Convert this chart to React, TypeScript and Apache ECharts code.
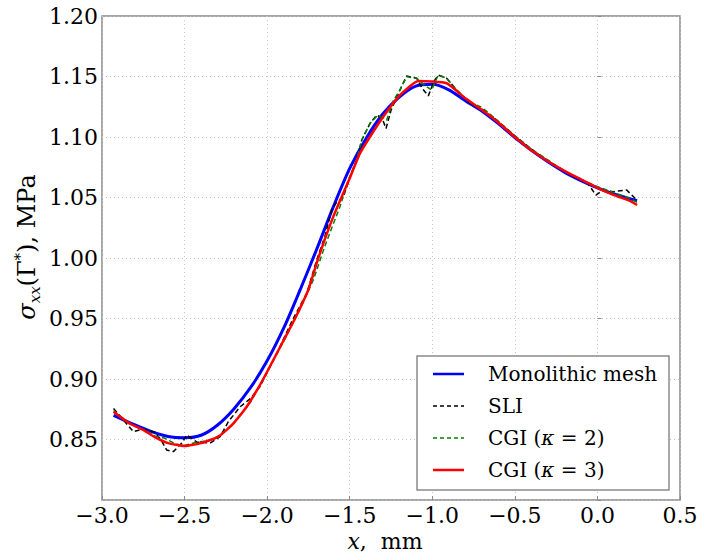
import React, { useEffect, useRef } from "react";
import * as echarts from "echarts";

const monoX = [-2.93, -2.8, -2.7, -2.6, -2.5, -2.4, -2.3, -2.2, -2.1, -2.0, -1.9, -1.8, -1.7, -1.6, -1.5, -1.4, -1.3, -1.2, -1.1, -1.0, -0.9, -0.8, -0.7, -0.6, -0.5, -0.4, -0.3, -0.2, -0.1, 0.0, 0.1, 0.24];
const monoY = [0.870, 0.862, 0.8565, 0.8525, 0.8515, 0.8535, 0.862, 0.8755, 0.893, 0.915, 0.942, 0.9738, 1.0072, 1.042, 1.074, 1.099, 1.119, 1.133, 1.142, 1.1435, 1.139, 1.130, 1.1215, 1.111, 1.0995, 1.089, 1.0795, 1.071, 1.064, 1.058, 1.053, 1.0474];

const sliX = [-2.93, -2.87, -2.81, -2.77, -2.73, -2.679, -2.64, -2.608, -2.568, -2.517, -2.487, -2.427, -2.346, -2.285, -2.235, -2.164, -2.1, -2.043, -1.942, -1.842, -1.76, -1.7, -1.65, -1.609, -1.58, -1.54, -1.5, -1.458, -1.427, -1.377, -1.337, -1.305, -1.28, -1.25, -1.196, -1.155, -1.094, -1.06, -1.024, -0.99, -0.964, -0.913, -0.852, -0.771, -0.691, -0.61, -0.5, -0.4, -0.3, -0.2, -0.146, -0.065, -0.009, 0.036, 0.096, 0.177, 0.238];
const sliY = [0.8757, 0.866, 0.8565, 0.858, 0.858, 0.856, 0.849, 0.8413, 0.84, 0.847, 0.8537, 0.848, 0.847, 0.8523, 0.8647, 0.877, 0.884, 0.8937, 0.921, 0.95, 0.9708, 0.9983, 1.018, 1.0397, 1.046, 1.05, 1.066, 1.081, 1.0975, 1.1113, 1.118, 1.116, 1.107, 1.122, 1.1388, 1.1505, 1.1485, 1.14, 1.134, 1.146, 1.1512, 1.1485, 1.1388, 1.1278, 1.1223, 1.114, 1.101, 1.09, 1.08, 1.072, 1.0672, 1.063, 1.052, 1.0562, 1.0548, 1.0562, 1.048];

const cgi2X = [-2.93, -2.87, -2.8, -2.73, -2.68, -2.62, -2.55, -2.5, -2.42, -2.35, -2.28, -2.2, -2.1, -2.0, -1.9, -1.8, -1.72, -1.65, -1.6, -1.559, -1.508, -1.458, -1.427, -1.377, -1.33, -1.276, -1.236, -1.196, -1.155, -1.094, -1.04, -1.004, -0.964, -0.913, -0.852, -0.771, -0.7, -0.6, -0.5, -0.4, -0.3, -0.2, -0.1, 0.0, 0.1, 0.2, 0.24];
const cgi2Y = [0.874, 0.867, 0.861, 0.857, 0.853, 0.851, 0.846, 0.845, 0.848, 0.849, 0.854, 0.864, 0.881, 0.906, 0.931, 0.958, 0.982, 1.01, 1.028, 1.0424, 1.0645, 1.081, 1.0975, 1.1113, 1.118, 1.114, 1.13, 1.1388, 1.1498, 1.1485, 1.142, 1.1388, 1.1512, 1.1485, 1.1388, 1.1285, 1.1245, 1.113, 1.101, 1.09, 1.081, 1.072, 1.065, 1.059, 1.054, 1.049, 1.046];

const cgi3X = [-2.93, -2.83, -2.75, -2.68, -2.6, -2.5, -2.4, -2.3, -2.245, -2.2, -2.124, -2.05, -2.0, -1.9, -1.831, -1.75, -1.69, -1.6, -1.5, -1.438, -1.35, -1.297, -1.2, -1.085, -0.913, -0.8, -0.7, -0.6, -0.5, -0.4, -0.3, -0.2, -0.1, 0.0, 0.1, 0.2, 0.24];
const cgi3Y = [0.873, 0.863, 0.858, 0.852, 0.847, 0.8446, 0.847, 0.852, 0.858, 0.864, 0.877, 0.8935, 0.906, 0.932, 0.95, 0.974, 1.0, 1.034, 1.066, 1.0865, 1.106, 1.1168, 1.134, 1.1463, 1.1444, 1.132, 1.1225, 1.112, 1.1, 1.089, 1.08, 1.072, 1.065, 1.058, 1.052, 1.047, 1.0438];

const seriesNames = ["Monolithic mesh", "SLI", "CGI (κ = 2)", "CGI (κ = 3)"];
const seriesColors = ["#0000ff", "#000000", "#008000", "#ff0000"];
const seriesWidths = [3, 1.5, 1.5, 2.5];
const seriesDashed = [false, true, true, false];

const FONT = "'DejaVu Serif', 'Liberation Serif', serif";

function pairs(xs: number[], ys: number[]) {
  return xs.map((x, i) => [x, ys[i]]);
}

function legendText(name: string) {
  if (name.indexOf("κ") >= 0) {
    const parts = name.split("κ");
    return "{n|" + parts[0] + "}{i|κ}{n|" + parts[1] + "}";
  }
  return "{n|" + name + "}";
}

export default function App() {
  const ref = useRef<HTMLDivElement>(null);
  useEffect(() => {
    if (!ref.current) return;
    const chart = echarts.init(ref.current, undefined, { renderer: "svg" });
    const gridLine = { show: true, lineStyle: { color: "#c4c4c4", type: [1, 3] as any, width: 1 } };

    const legendTop = 374;
    const legendStep = 32;
    const legendEls: any[] = [
      {
        type: "rect",
        z: 10,
        shape: { x: 417, y: 356, width: 252, height: 134 },
        style: { fill: "#ffffff", stroke: "#8a8a8a", lineWidth: 1.5 },
      },
    ];
    seriesNames.forEach((name, i) => {
      const y = legendTop + i * legendStep;
      legendEls.push({
        type: "line",
        z: 11,
        shape: { x1: 433, y1: y, x2: 464, y2: y },
        style: {
          stroke: seriesColors[i],
          lineWidth: seriesWidths[i] > 2 ? 2.5 : 1.5,
          lineDash: seriesDashed[i] ? [4, 3] : null,
        },
      });
      legendEls.push({
        type: "text",
        z: 11,
        x: 488,
        y: y,
        style: {
          text: legendText(name),
          align: "left",
          verticalAlign: "middle",
          rich: {
            n: { fontFamily: FONT, fontSize: 20, fill: "#000" },
            i: { fontFamily: FONT, fontSize: 20, fontStyle: "italic", fill: "#000" },
          },
        },
      });
    });

    chart.setOption({
      animation: false,
      backgroundColor: "#ffffff",
      textStyle: { fontFamily: FONT },
      grid: { left: 102, right: 34, top: 16, bottom: 54, show: true, borderColor: "#8a8a8a", borderWidth: 1.5, containLabel: false },
      xAxis: {
        type: "value",
        min: -3,
        max: 0.5,
        interval: 0.5,
        axisLine: { show: false },
        axisTick: { show: true, inside: true, length: 4, lineStyle: { color: "#8a8a8a" } },
        splitLine: gridLine,
        axisLabel: {
          margin: 4,
          fontFamily: FONT,
          fontSize: 22,
          color: "#000",
          formatter: (v: number) => (v < 0 ? "\u2212" + Math.abs(v).toFixed(1) : v.toFixed(1)),
        },
      },
      yAxis: {
        type: "value",
        min: 0.8,
        max: 1.2,
        interval: 0.05,
        axisLine: { show: false },
        axisTick: { show: true, inside: true, length: 4, lineStyle: { color: "#8a8a8a" } },
        splitLine: gridLine,
        axisLabel: {
          margin: 4,
          fontFamily: FONT,
          fontSize: 22,
          color: "#000",
          formatter: (v: number) => (Math.abs(v - 0.8) < 1e-6 ? "" : v.toFixed(2)),
        },
      },
      legend: { show: false, data: seriesNames },
      graphic: [
        ...legendEls,
        {
          type: "text",
          x: 27,
          y: 247,
          rotation: Math.PI / 2,
          style: {
            text: "{i|σ}{sub|xx}{n|(Γ}{sup|*}{n|), MPa}",
            align: "center",
            verticalAlign: "middle",
            rich: {
              i: { fontFamily: FONT, fontSize: 24, fontStyle: "italic", fill: "#000", lineHeight: 30 },
              n: { fontFamily: FONT, fontSize: 24, fill: "#000", lineHeight: 30 },
              sub: { fontFamily: FONT, fontSize: 15, fontStyle: "italic", fill: "#000", verticalAlign: "bottom", lineHeight: 30 },
              sup: { fontFamily: FONT, fontSize: 15, fill: "#000", verticalAlign: "top", lineHeight: 26 },
            },
          },
        },
        {
          type: "text",
          x: 385,
          y: 541,
          style: {
            text: "{i|x}{n|,  mm}",
            align: "center",
            verticalAlign: "middle",
            rich: {
              i: { fontFamily: FONT, fontSize: 22, fontStyle: "italic", fill: "#000" },
              n: { fontFamily: FONT, fontSize: 22, fill: "#000" },
            },
          },
        },
      ],
      series: [
        {
          name: seriesNames[0],
          type: "line",
          data: pairs(monoX, monoY),
          smooth: 0.3,
          symbol: "none",
          z: 2,
          lineStyle: { color: seriesColors[0], width: seriesWidths[0] },
          itemStyle: { color: seriesColors[0] },
        },
        {
          name: seriesNames[1],
          type: "line",
          data: pairs(sliX, sliY),
          smooth: false,
          symbol: "none",
          z: 2,
          lineStyle: { color: seriesColors[1], width: seriesWidths[1], type: [5, 3] },
          itemStyle: { color: seriesColors[1] },
        },
        {
          name: seriesNames[2],
          type: "line",
          data: pairs(cgi2X, cgi2Y),
          smooth: false,
          symbol: "none",
          z: 2,
          lineStyle: { color: seriesColors[2], width: seriesWidths[2], type: [5, 3] },
          itemStyle: { color: seriesColors[2] },
        },
        {
          name: seriesNames[3],
          type: "line",
          data: pairs(cgi3X, cgi3Y),
          smooth: 0.15,
          symbol: "none",
          z: 3,
          lineStyle: { color: seriesColors[3], width: seriesWidths[3] },
          itemStyle: { color: seriesColors[3] },
        },
      ],
    });
    return () => chart.dispose();
  }, []);
  return <div ref={ref} style={{ position: "fixed", left: 0, top: 0, width: 714, height: 554 }} />;
}
